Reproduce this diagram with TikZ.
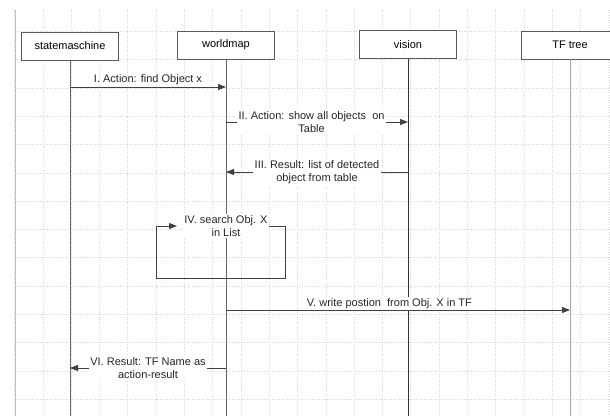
\documentclass[tikz,border=0pt]{standalone}
\usepackage{fontspec}
\setmainfont{Liberation Sans}
\usetikzlibrary{arrows.meta}

\begin{document}
\begin{tikzpicture}[x=1bp,y=-1bp,>={Triangle[length=8bp,width=6bp]},line width=.8bp,
font=\fontsize{11bp}{13.5bp}\selectfont,
actor/.style={draw=black!65, fill=white, minimum width=97bp, minimum height=28bp, inner sep=0pt},
lifeline/.style={draw=black!60},
msg/.style={->, draw=black!75},
lbl/.style={fill=white, align=center, inner sep=1.5bp, text=black!85}]
\useasboundingbox (0,0) rectangle (610,416);

% grid
\foreach \k in {0,...,21}
  \draw[black!16, dotted, line width=.5bp] (14.5+28.3*\k,10) -- (14.5+28.3*\k,416);
\foreach \k in {0,...,13}
  \draw[black!16, dotted, line width=.5bp] (15,31.3+28.3*\k) -- (610,31.3+28.3*\k);
\draw[black!25, line width=.6bp] (15,10) -- (15,416);

\coordinate (bottom) at (0,416);
\node[actor] (sm) at (70,46) {statemaschine};
\node[actor] (wm) at (226,45) {worldmap};
\node[actor] (vi) at (408,44.5) {vision};
\node[actor] (tf) at (570,45) {TF tree};

 \draw[lifeline] (sm.south) -- (sm.south |- bottom);
 \draw[lifeline] (wm.south) -- (wm.south |- bottom);
 \draw[lifeline, draw=black!80] (vi.south) -- (vi.south |- bottom);
 \draw[lifeline, draw=black!35] (tf.south) -- (tf.south |- bottom);

\foreach \n/\y in {1/87,2/122,3/172,4/226,5/310,6/368} {
  \coordinate (sm\n) at (sm.south |- 0,\y);
  \coordinate (wm\n) at (wm.south |- 0,\y);
  \coordinate (vi\n) at (vi.south |- 0,\y);
  \coordinate (tf\n) at (tf.south |- 0,\y);
}

 \draw[msg] (sm1) -- node[above, inner sep=2bp, text=black!85] {I. Action: find Object x} (wm1);
 \draw[msg] (wm2) -- node[lbl, pos=.47] {II. Action: show all objects\ \ on\\Table} (vi2);
 \draw[msg] (vi3) -- node[lbl] {III. Result: list of detected\\object from table} (wm3);
 \draw[msg] (wm4) node[lbl] {IV. search Obj. X\\in List} -- ++(59,0) -- ++(0,52) -- ++(-129,0) -- ++(0,-52) -- ++(21,0);
 \draw[msg] (wm5) -- node[lbl, above, pos=.475, inner sep=1bp] {V. write postion\ \ from Obj. X in TF} (tf5);
 \draw[msg] (wm6) -- node[lbl] {VI. Result: TF Name as\\action-result} (sm6);

\end{tikzpicture}
\end{document}
